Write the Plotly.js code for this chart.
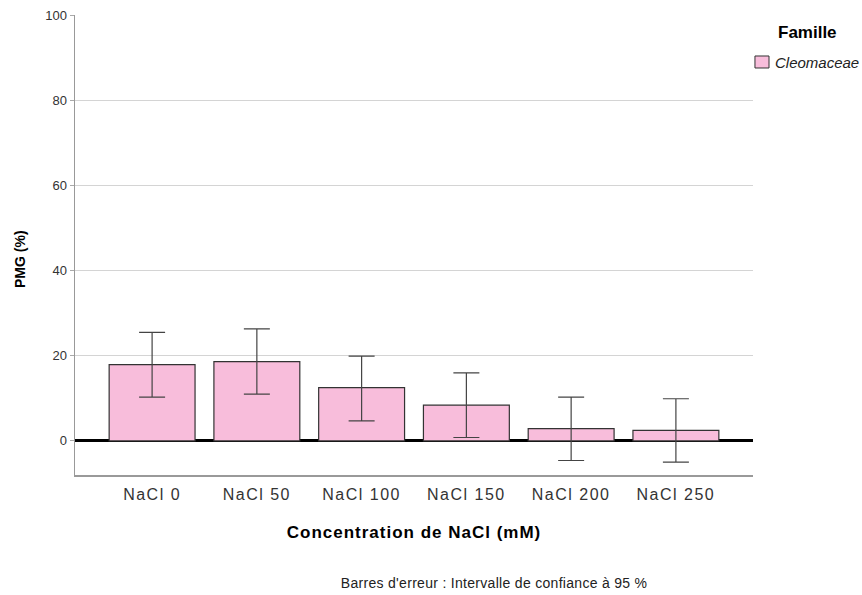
<!DOCTYPE html>
<html>
<head>
<meta charset="utf-8">
<script src="https://cdn.plot.ly/plotly-3.0.1.min.js"></script>
<style>
html,body{margin:0;padding:0;background:#fff;}
#chart{width:862px;height:595px;}
#chart .xtick text{letter-spacing:1.5px;}
#chart .g-xtitle text{letter-spacing:1px;}
</style>
</head>
<body>
<div id="chart"></div>
<script>
const categories = ["NaCl 0", "NaCl 50", "NaCl 100", "NaCl 150", "NaCl 200", "NaCl 250"];
const pmgMean = [17.9, 18.6, 12.5, 8.4, 2.9, 2.5];
const ciUpper = [25.5, 26.3, 19.9, 16.0, 10.3, 9.9];
const ciLower = [10.3, 11.0, 4.7, 0.8, -4.6, -5.0];
const yTicks = [0, 20, 40, 60, 80, 100];
const seriesName = "Cleomaceae";

const errPlus = pmgMean.map((m, i) => ciUpper[i] - m);
const errMinus = pmgMean.map((m, i) => m - ciLower[i]);

const FONT = "Liberation Sans, Arial, sans-serif";
const PINK = "#F8BDDB";

const trace = {
  type: "bar",
  x: categories,
  y: pmgMean,
  name: seriesName,
  marker: {color: PINK, line: {color: "#333333", width: 1.2}},
  error_y: {type: "data", symmetric: false, array: errPlus, arrayminus: errMinus,
            color: "#444444", thickness: 1.2, width: 13},
  showlegend: false,
  hoverinfo: "skip"
};

const layout = {
  width: 862, height: 595,
  margin: {l: 75, r: 109, t: 15, b: 120},
  paper_bgcolor: "#fff", plot_bgcolor: "#fff",
  font: {family: FONT, color: "#222"},
  bargap: 0.18,
  xaxis: {
    type: "category",
    range: [-0.736, 5.736],
    showline: true, linecolor: "#999", linewidth: 1.5, mirror: false,
    ticks: "outside", ticklen: 4, tickcolor: "rgba(0,0,0,0)",
    showgrid: false, zeroline: false,
    tickfont: {size: 16, color: "#333", family: FONT},
    title: {text: "Concentration de NaCl (mM)", font: {size: 17, color: "#000", family: FONT, weight: "bold"}, standoff: 24}
  },
  yaxis: {
    range: [-8, 100],
    tickvals: yTicks,
    ticktext: yTicks.map(String),
    showline: true, linecolor: "#999", linewidth: 1.5,
    ticks: "outside", ticklen: 4, tickcolor: "#aaa",
    showgrid: true, gridcolor: "#d4d4d4", gridwidth: 1,
    zeroline: true, zerolinecolor: "#000", zerolinewidth: 3,
    tickfont: {size: 13, color: "#333", family: FONT}
  },
  shapes: [
    {type: "rect", xref: "paper", yref: "paper", x0: 1.0029, x1: 1.0236, y0: 0.8848, y1: 0.9109,
     fillcolor: PINK, line: {color: "#333", width: 1}}
  ],
  annotations: [
    {text: "<b>PMG (%)</b>", xref: "paper", yref: "paper", x: -0.0811, y: 0.4696, textangle: -90,
     xanchor: "center", yanchor: "middle", showarrow: false, font: {size: 14, color: "#000", family: FONT}},
    {text: "<b>Famille</b>", xref: "paper", yref: "paper", x: 1.0811, y: 0.9609, xanchor: "center", yanchor: "middle",
     showarrow: false, font: {size: 17, color: "#000", family: FONT}},
    {text: "<i>" + seriesName + "</i>", xref: "paper", yref: "paper", x: 1.0295, y: 0.8978, xanchor: "left", yanchor: "middle",
     showarrow: false, font: {size: 15, color: "#222", family: FONT}},
    {text: "Barres d'erreur : Intervalle de confiance à 95 %", xref: "paper", yref: "paper", x: 0.618, y: -0.2348,
     xanchor: "center", yanchor: "middle", showarrow: false, font: {size: 14, color: "#222", family: FONT}}
  ]
};

Plotly.newPlot("chart", [trace], layout, {displayModeBar: false, staticPlot: true}).then(function () {
  const notes = document.querySelectorAll("#chart .annotation-text");
  if (notes.length >= 4) notes[3].style.letterSpacing = "0.3px";
});
</script>
</body>
</html>
